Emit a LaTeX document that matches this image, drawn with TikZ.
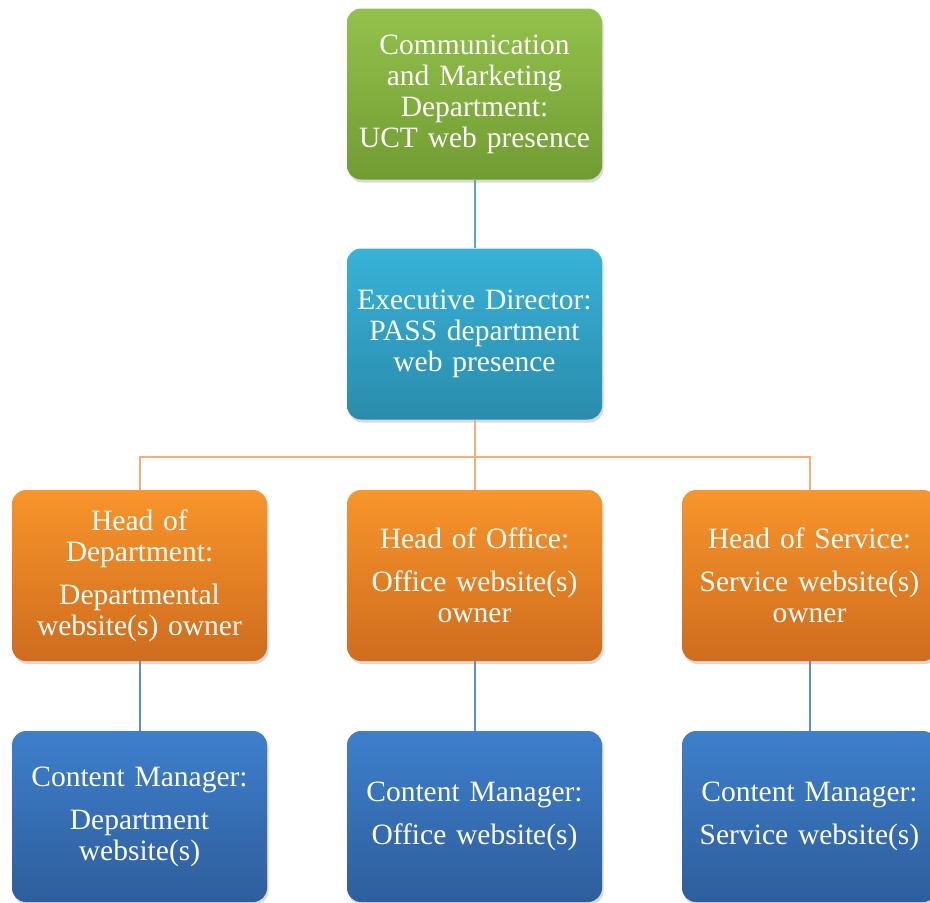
\documentclass[tikz,border=0pt]{standalone}
\usepackage{fontspec}
\setmainfont[WordSpace=0.8]{Liberation Serif}
\usetikzlibrary{shadows}
\definecolor{gtop}{HTML}{93C14B}
\definecolor{gbot}{HTML}{719C33}
\definecolor{ctop}{HTML}{38B2D8}
\definecolor{cbot}{HTML}{2A8CAC}
\definecolor{otop}{HTML}{F8952B}
\definecolor{obot}{HTML}{CF6C1E}
\definecolor{btop}{HTML}{3E7FCC}
\definecolor{bbot}{HTML}{2E5E9C}
\definecolor{clin}{HTML}{4BACC6}
\definecolor{olin}{HTML}{F7AE74}
\definecolor{blin}{HTML}{5B8ED4}
\tikzset{
  box/.style={rounded corners=14pt, minimum width=255pt, minimum height=171pt,
    text width=250pt, align=center, text=white, inner sep=0pt,
    font=\fontsize{29.5}{31}\selectfont,
    drop shadow={opacity=0.3, shadow xshift=1.5pt, shadow yshift=-3pt}},
  greenbox/.style={box, top color=gtop, bottom color=gbot},
  cyanbox/.style={box, top color=ctop, bottom color=cbot},
  orangebox/.style={box, top color=otop, bottom color=obot},
  bluebox/.style={box, top color=btop, bottom color=bbot},
  cline/.style={draw=clin, line width=2pt},
  oline/.style={draw=olin, line width=2pt},
  bline/.style={draw=blin, line width=2pt},
}
\begin{document}
\begin{tikzpicture}[x=1pt,y=1pt]
\useasboundingbox (0,0) rectangle (930,-903);
\node[greenbox] (cm) at (474.5,-94) {Communication\\and Marketing\\Department:\\UCT web presence};
\node[cyanbox] (ed) at (474.5,-334) {Executive Director:\\PASS department\\web presence};
\node[orangebox] (hd) at (139.5,-575.5) {Head of\\Department:\\[12pt]Departmental\\website(s) owner};
\node[orangebox] (ho) at (474.5,-575.5) {Head of Office:\\[12pt]Office website(s)\\owner};
\node[orangebox] (hs) at (809.5,-575.5) {Head of Service:\\[12pt]Service website(s)\\owner};
\node[bluebox] (cd) at (139.5,-816.5) {Content Manager:\\[12pt]Department\\website(s)};
\node[bluebox] (co) at (474.5,-816.5) {Content Manager:\\[12pt]Office website(s)};
\node[bluebox] (cs) at (809.5,-816.5) {Content Manager:\\[12pt]Service website(s)};
\coordinate (bus) at (0,-457);
\draw[cline] (cm.south) -- (ed.north);
\draw[oline] (ed.south) -- (ed.south |- bus);
\draw[oline] (hd.north) |- (hs.north |- bus) -- (hs.north);
\draw[oline] (ho.north |- bus) -- (ho.north);
\draw[bline] (hd.south) -- (cd.north);
\draw[bline] (ho.south) -- (co.north);
\draw[bline] (hs.south) -- (cs.north);
\end{tikzpicture}
\end{document}
